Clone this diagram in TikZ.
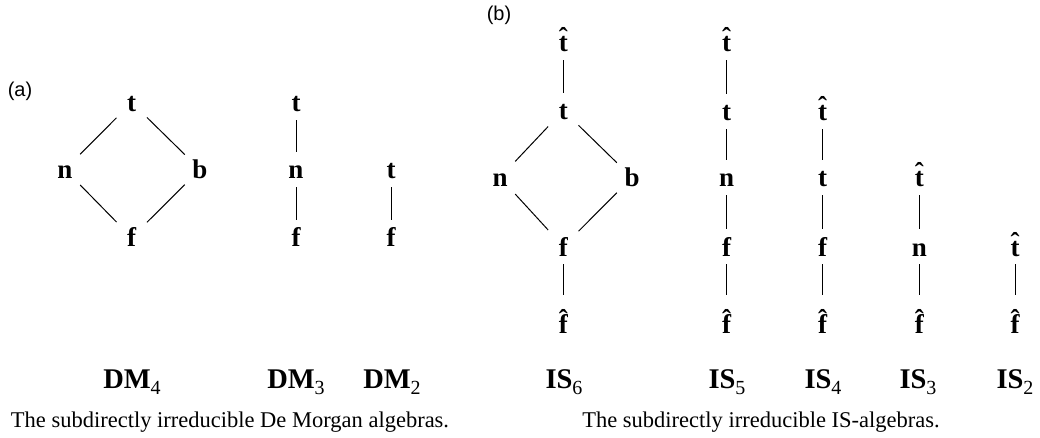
\documentclass[tikz,border=0pt]{standalone}
\usepackage{fontspec}
\setmainfont{Liberation Serif}
\newfontfamily\labfont{Liberation Sans}
\newcommand{\algname}[2]{{\bfseries #1}\raisebox{-6pt}{\fontsize{20}{22}\selectfont\mdseries #2}}
\newcommand{\hatltr}[1]{\ooalign{#1\cr\hidewidth\raisebox{5pt}{\char"02C6}\hidewidth\cr}}
\tikzset{
  el/.style={font=\fontsize{27}{32}\selectfont\bfseries, anchor=base, text height=19pt, text depth=0pt, inner ysep=8pt, inner xsep=0pt, minimum width=30pt},
  elhat/.style={el, text height=30pt},
  conn/.style={line width=1pt, black},
  alg/.style={font=\fontsize{28.5}{32}\selectfont, anchor=base, inner sep=0pt},
  captext/.style={font=\fontsize{22.5}{27}\selectfont, anchor=base, inner sep=0pt},
  panel/.style={font=\labfont\fontsize{20}{24}\selectfont, anchor=center, inner sep=0pt}
}
\begin{document}
\begin{tikzpicture}[x=1pt,y=-1pt]
\useasboundingbox (0,0) rectangle (1040,438);
% panel labels
\node[panel] (pa) at (20,91) {(a)};
\node[panel] (pb) at (499,15) {(b)};
% DM4
\node[el] (t4) at (131.7,112) {t};
\node[el] (n4) at (65,179) {n};
\node[el] (b4) at (200,179) {b};
\node[el] (f4) at (131.7,247) {f};
\draw[conn] (t4) -- (n4);
\draw[conn] (t4) -- (b4);
\draw[conn] (n4) -- (f4);
\draw[conn] (b4) -- (f4);
% DM3
\node[el] (t3) at (296,112) {t};
\node[el] (n3) at (296,179) {n};
\node[el] (f3) at (296,247) {f};
\draw[conn] (t3) -- (n3);
\draw[conn] (n3) -- (f3);
% DM2
\node[el] (t2) at (391,179) {t};
\node[el] (f2) at (391,247) {f};
\draw[conn] (t2) -- (f2);
% IS6
\node[el] (ht6) at (563.3,52) {\hatltr{t}};
\node[el] (t6) at (563.3,120) {t};
\node[el] (n6) at (500,187) {n};
\node[el] (b6) at (632,187) {b};
\node[el] (f6) at (563.3,256) {f};
\node[elhat] (hf6) at (563.3,333) {\hatltr{f}};
\draw[conn] (ht6) -- (t6);
\draw[conn] (t6) -- (n6);
\draw[conn] (t6) -- (b6);
\draw[conn] (n6) -- (f6);
\draw[conn] (b6) -- (f6);
\draw[conn] (f6) -- (hf6);
% IS5
\node[el] (ht5) at (726.7,52) {\hatltr{t}};
\node[el] (t5) at (726.7,121) {t};
\node[el] (n5) at (726.7,187) {n};
\node[el] (f5) at (726.7,256) {f};
\node[elhat] (hf5) at (726.7,333) {\hatltr{f}};
\draw[conn] (ht5) -- (t5);
\draw[conn] (t5) -- (n5);
\draw[conn] (n5) -- (f5);
\draw[conn] (f5) -- (hf5);
% IS4
\node[el] (ht4) at (822.7,121) {\hatltr{t}};
\node[el] (tq4) at (822.7,187) {t};
\node[el] (fq4) at (822.7,256) {f};
\node[elhat] (hf4) at (822.7,333) {\hatltr{f}};
\draw[conn] (ht4) -- (tq4);
\draw[conn] (tq4) -- (fq4);
\draw[conn] (fq4) -- (hf4);
% IS3
\node[el] (ht3) at (919.3,187) {\hatltr{t}};
\node[el] (nq3) at (919.3,256) {n};
\node[elhat] (hf3) at (919.3,333) {\hatltr{f}};
\draw[conn] (ht3) -- (nq3);
\draw[conn] (nq3) -- (hf3);
% IS2
\node[el] (ht2) at (1015,256) {\hatltr{t}};
\node[elhat] (hf2) at (1015,333) {\hatltr{f}};
\draw[conn] (ht2) -- (hf2);
% algebra names
\node[alg] (lDM4) at (132,388) {\algname{DM}{4}};
\node[alg] (lDM3) at (296,388) {\algname{DM}{3}};
\node[alg] (lDM2) at (392,388) {\algname{DM}{2}};
\node[alg] (lIS6) at (564,388) {\algname{IS}{6}};
\node[alg] (lIS5) at (727,388) {\algname{IS}{5}};
\node[alg] (lIS4) at (823,388) {\algname{IS}{4}};
\node[alg] (lIS3) at (918,388) {\algname{IS}{3}};
\node[alg] (lIS2) at (1015,388) {\algname{IS}{2}};
% captions
\node[captext] (capa) at (230,427) {The subdirectly irreducible De Morgan algebras.};
\node[captext] (capb) at (761,427) {The subdirectly irreducible IS-algebras.};
\end{tikzpicture}
\end{document}
